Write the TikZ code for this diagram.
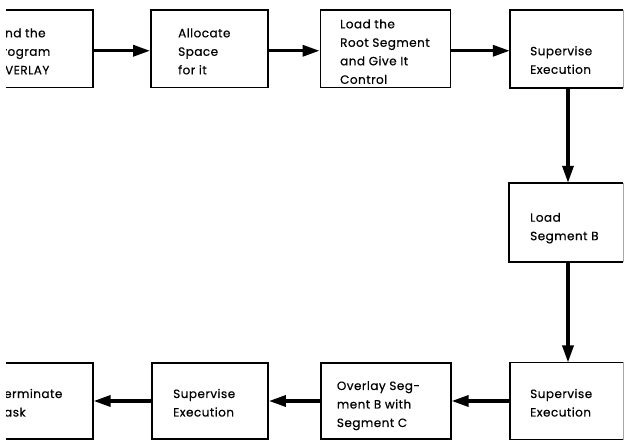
\documentclass[tikz,border=0pt]{standalone}
\usepackage{fontspec}
\setmainfont{Poppins}[LetterSpace=4, FakeBold=0.5, Kerning=Off]
\usetikzlibrary{arrows.meta}
\newcommand\lbltext{\fontsize{12}{18.5}\selectfont}
\tikzset{
  box/.style={draw=black, line width=1.8pt, inner sep=0pt, rectangle},
  openbox/.style={draw=none, inner sep=0pt, rectangle},
  edgeline/.style={line width=1.8pt},
  txt/.style={inner sep=0pt, anchor=base west, font=\lbltext, text=black},
  flow/.style={line width=3.3pt, -{Triangle[length=17pt,width=11pt]}},
}
\begin{document}
\begin{tikzpicture}[x=1pt,y=-1pt]
\useasboundingbox (0,0) rectangle (625,441);
\fill[white] (0,0) rectangle (625,441);

% ---- left column, cut off at the page edge ----
\begin{scope}
\clip (6,0) rectangle (130,441);
\node[box, minimum width=122pt, minimum height=77.5pt] (b1) at (31.7,48.75) {};
\node[txt] (t1) at (-5,37.3) {\vtop{\hbox{Find the}\hbox{Program}\hbox{OVERLAY}}};
\node[box, minimum width=122pt, minimum height=76.6pt] (c4) at (31.7,401) {};
\node[txt] (u4) at (-3,398) {\vtop{\hbox{Terminate}\hbox{Task}}};
\end{scope}

% ---- top row ----
\node[box, minimum width=117pt, minimum height=77.5pt] (b2) at (209.5,48.75) {};
\node[txt] (t2) at (178,37.3) {\vtop{\hbox{Allocate}\hbox{Space}\hbox{for it}}};

\node[box, minimum width=130pt, minimum height=77.5pt] (b3) at (385.5,48.75) {};
\node[txt] (t3) at (340,28.3) {\vtop{\hbox{Load the}\hbox{Root Segment}\hbox{and Give It}\hbox{Control}}};

\node[openbox, minimum width=113pt, minimum height=77.5pt] (b4) at (566.5,48.75) {};
\node[txt] (t4) at (530,55.3) {\vtop{\hbox{Supervise}\hbox{Execution}}};

% ---- right column ----
\node[openbox, minimum width=114pt, minimum height=79pt] (b5) at (566,222.5) {};
\node[txt] (t5) at (530,221.7) {\vtop{\hbox{Load}\hbox{Segment B}}};

% ---- bottom row ----
\node[openbox, minimum width=113pt, minimum height=76.6pt] (c1) at (566.5,401) {};
\node[txt] (u1) at (530,398) {\vtop{\hbox{Supervise}\hbox{Execution}}};

\node[box, minimum width=130pt, minimum height=76.6pt] (c2) at (385.7,401) {};
\node[txt] (u2) at (336.7,390) {\vtop{\hbox{Overlay Seg-}\hbox{ment B with}\hbox{Segment C}}};

\node[box, minimum width=116pt, minimum height=76.6pt] (c3) at (210,401) {};
\node[txt] (u3) at (173,398) {\vtop{\hbox{Supervise}\hbox{Execution}}};

% boxes running off the right edge: solid top, left and bottom, faint right side
\foreach \n in {b4,b5,c1}{
  \draw[edgeline] (\n.north east) -- (\n.north west) -- (\n.south west) -- (\n.south east);
  \draw[line width=0.8pt, black!35] (\n.north east) -- (\n.south east);
}

% ---- connectors ----
\draw[flow] ([yshift=-2pt]b1.east) -- ([yshift=-2pt]b2.west);
\draw[flow] ([yshift=-2pt]b2.east) -- ([yshift=-2pt]b3.west);
\draw[flow] ([yshift=-2pt]b3.east) -- ([yshift=-2pt]b4.west);
\draw[flow] ([xshift=1.5pt]b4.south) -- ([xshift=1.5pt]b4.south |- b5.north);
\draw[flow] ([xshift=2pt]b5.south) -- ([xshift=2pt]b5.south |- c1.north);
\draw[flow] (c1.west) -- (c2.east);
\draw[flow] (c2.west) -- (c3.east);
\draw[flow] (c3.west) -- (c3.west -| c4.east);
\end{tikzpicture}
\end{document}
